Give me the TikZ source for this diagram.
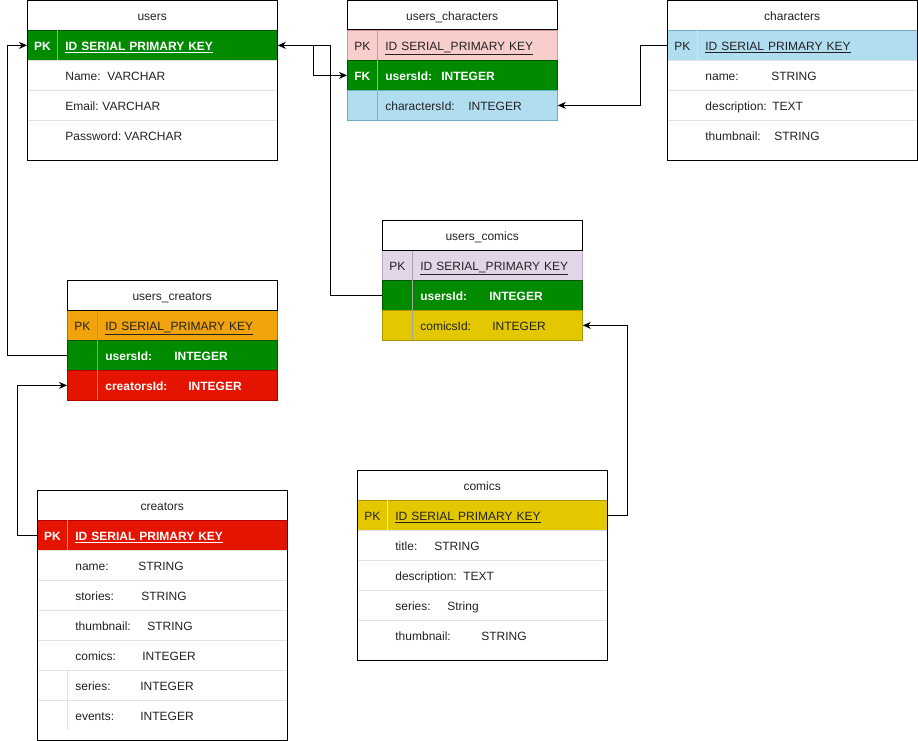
\documentclass[tikz,border=0pt]{standalone}
\usepackage{fontspec}
\setmainfont{Liberation Sans}
\usepackage{tikz}
\usetikzlibrary{arrows.meta,positioning}
\definecolor{erdgreen}{HTML}{008A00}
\definecolor{erdgreendark}{HTML}{005700}
\definecolor{erdpink}{HTML}{F8CECC}
\definecolor{erdpinkdark}{HTML}{B85450}
\definecolor{erdblue}{HTML}{B1DDF0}
\definecolor{erdbluedark}{HTML}{10739E}
\definecolor{erdlilac}{HTML}{E1D5E7}
\definecolor{erdlilacdark}{HTML}{9673A6}
\definecolor{erdorange}{HTML}{F0A30A}
\definecolor{erdorangedark}{HTML}{BD7000}
\definecolor{erdred}{HTML}{E51400}
\definecolor{erdreddark}{HTML}{B20000}
\definecolor{erdyellow}{HTML}{E3C800}
\definecolor{erdyellowdark}{HTML}{B09500}
\definecolor{rowline}{HTML}{E2E2E2}
\definecolor{bodytext}{HTML}{222222}
\newcommand{\tabfont}{\fontsize{12}{14}\selectfont}
\newcommand{\erow}[4]{\makebox[30pt]{#1}\hspace*{8pt}\makebox[#2pt][l]{#3}#4}

\begin{document}
\begin{tikzpicture}[x=1pt, y=-1pt,
    tabtitle/.style={anchor=north west, inner sep=0pt, minimum height=30, text width=#1, align=center, text height=11pt, text depth=1pt, font=\tabfont, text=bodytext},
    tabrow/.style={anchor=north west, inner sep=0pt, minimum height=30, text width=#1, align=left, text height=11pt, text depth=1pt, font=\tabfont, text=bodytext, line width=0.8pt},
    plainrow/.style={draw=rowline},
    whiterow/.style={text=white, font=\tabfont\bfseries},
    frame/.style={draw=black, line width=1pt},
    fk/.style={-{Stealth[length=8pt,width=7pt,inset=2.5pt]}, line width=1pt, draw=black}]
    \useasboundingbox (0,0) rectangle (918,741);

    % === users ===
    \node[tabrow=250, fill=erdgreen, draw=erdgreendark, whiterow] (users-pk) at (27,30) {\erow{PK}{0}{\underline{ID SERIAL PRIMARY KEY}}{}};
    \node[tabrow=250, plainrow] (users-name) at (27,60) {\erow{}{42}{Name:}{VARCHAR}};
    \node[tabrow=250, plainrow] (users-email) at (27,90) {\erow{}{37}{Email:}{VARCHAR}};
    \node[tabrow=250] (users-pass) at (27,120) {\erow{}{59}{Password:}{VARCHAR}};
    \draw[erdgreen!55!white, line width=0.8pt] (57,30) -- (57,60);
    \node[tabtitle=250] (users) at (27,0.5) {users};
    \draw[frame] (27,0.5) rectangle (277,160);

    % === users_characters ===
    \node[tabrow=210, fill=erdpink, draw=erdpinkdark!60] (uch-pk) at (347,30) {\erow{PK}{0}{\underline{ID SERIAL\_PRIMARY KEY}}{}};
    \node[tabrow=210, fill=erdgreen, draw=erdgreendark, whiterow] (uch-fk) at (347,60) {\erow{FK}{56}{usersId:}{INTEGER}};
    \node[tabrow=210, fill=erdblue, draw=erdbluedark!60] (uch-cid) at (347,90) {\erow{}{83}{charactersId:}{INTEGER}};
    \draw[gray!70, line width=0.8pt] (377,30) -- (377,120);
    \node[tabtitle=210] (uch) at (347,0.5) {users\_characters};
    \draw[frame] (347,0.5) rectangle (557,30);

    % === characters ===
    \node[tabrow=250, fill=erdblue, draw=erdbluedark!60] (ch-pk) at (667,30) {\erow{PK}{0}{\underline{ID SERIAL PRIMARY KEY}}{}};
    \node[tabrow=250, plainrow] (ch-name) at (667,60) {\erow{}{66}{name:}{STRING}};
    \node[tabrow=250, plainrow] (ch-desc) at (667,90) {\erow{}{67}{description:}{TEXT}};
    \node[tabrow=250] (ch-thumb) at (667,120) {\erow{}{69}{thumbnail:}{STRING}};
    \draw[white!80!erdbluedark, line width=0.8pt] (697,30) -- (697,60);
    \node[tabtitle=250] (ch) at (667,0.5) {characters};
    \draw[frame] (667,0.5) rectangle (917,160);

    % === users_comics ===
    \node[tabrow=200, fill=erdlilac, draw=erdlilacdark!60] (ucm-pk) at (382,250) {\erow{PK}{0}{\underline{ID SERIAL\_PRIMARY KEY}}{}};
    \node[tabrow=200, fill=erdgreen, draw=erdgreendark, whiterow] (ucm-uid) at (382,280) {\erow{}{69}{usersId:}{INTEGER}};
    \node[tabrow=200, fill=erdyellow, draw=erdyellowdark] (ucm-cid) at (382,310) {\erow{}{72}{comicsId:}{INTEGER}};
    \draw[gray!70, line width=0.8pt] (412,250) -- (412,340);
    \node[tabtitle=200] (ucm) at (382,220) {users\_comics};
    \draw[frame] (382,220) rectangle (582,250);

    % === users_creators ===
    \node[tabrow=210, fill=erdorange, draw=erdorangedark] (ucr-pk) at (67,310) {\erow{PK}{0}{\underline{ID SERIAL\_PRIMARY KEY}}{}};
    \node[tabrow=210, fill=erdgreen, draw=erdgreendark, whiterow] (ucr-uid) at (67,340) {\erow{}{69}{usersId:}{INTEGER}};
    \node[tabrow=210, fill=erdred, draw=erdreddark, whiterow] (ucr-cid) at (67,370) {\erow{}{83}{creatorsId:}{INTEGER}};
    \draw[erdorangedark!80, line width=0.8pt] (97,310) -- (97,400);
    \node[tabtitle=210] (ucr) at (67,280) {users\_creators};
    \draw[frame] (67,280) rectangle (277,310);

    % === creators ===
    \node[tabrow=250, fill=erdred, draw=erdreddark, whiterow] (cr-pk) at (37,520) {\erow{PK}{0}{\underline{ID SERIAL PRIMARY KEY}}{}};
    \node[tabrow=250, plainrow] (cr-name) at (37,550) {\erow{}{63}{name:}{STRING}};
    \node[tabrow=250, plainrow] (cr-stories) at (37,580) {\erow{}{66}{stories:}{STRING}};
    \node[tabrow=250, plainrow] (cr-thumb) at (37,610) {\erow{}{72}{thumbnail:}{STRING}};
    \node[tabrow=250, plainrow] (cr-comics) at (37,640) {\erow{}{67}{comics:}{INTEGER}};
    \node[tabrow=250, plainrow] (cr-series) at (37,670) {\erow{}{65}{series:}{INTEGER}};
    \node[tabrow=250] (cr-events) at (37,700) {\erow{}{65}{events:}{INTEGER}};
    \draw[erdred!50!white, line width=0.8pt] (67,520) -- (67,550);
    \draw[rowline, line width=0.8pt] (67,670) -- (67,730);
    \node[tabtitle=250] (cr) at (37,490) {creators};
    \draw[frame] (37,490) rectangle (287,740);

    % === comics ===
    \node[tabrow=250, fill=erdyellow, draw=erdyellowdark] (cm-pk) at (357,500) {\erow{PK}{0}{\underline{ID SERIAL PRIMARY KEY}}{}};
    \node[tabrow=250, plainrow] (cm-title) at (357,530) {\erow{}{39}{title:}{STRING}};
    \node[tabrow=250, plainrow] (cm-desc) at (357,560) {\erow{}{68}{description:}{TEXT}};
    \node[tabrow=250, plainrow] (cm-series) at (357,590) {\erow{}{52}{series:}{String}};
    \node[tabrow=250] (cm-thumb) at (357,620) {\erow{}{86}{thumbnail:}{STRING}};
    \draw[white!70!erdyellow, line width=0.8pt] (387,500) -- (387,530);
    \node[tabtitle=250] (cm) at (357,470) {comics};
    \draw[frame] (357,470) rectangle (607,660);

    % Relations
    \draw[fk] (ucr-uid.west) -- ++(-60,0) |- (users-pk.west);
    \draw[fk] (cr-pk.west) -- ++(-20,0) |- (ucr-cid.west);
    \draw[fk] (ch-pk.west) -- ++(-27,0) |- (uch-cid.east);
    \draw[fk] (cm-pk.east) -- ++(20,0) |- (ucm-cid.east);
    \draw[fk] (ucm-uid.west) -- ++(-52,0) |- (users-pk.east);
    \draw[fk] (users-pk.east) -- ++(36,0) |- (uch-fk.west);
\end{tikzpicture}
\end{document}
